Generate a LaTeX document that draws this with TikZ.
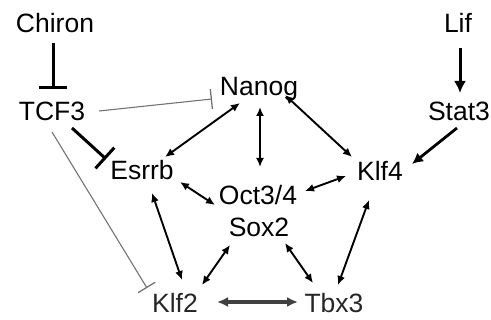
\documentclass[tikz,border=0pt]{standalone}
\usepackage{fontspec}
\setmainfont{Liberation Sans}
\usetikzlibrary{arrows.meta}
\begin{document}
\begin{tikzpicture}[x=1pt,y=-1pt,
  lbl/.style={anchor=base,inner sep=0pt,font=\fontsize{26.5}{30}\selectfont},
  faded/.style={lbl,text=black!85},
  act/.style={line width=1.9pt,{Latex[length=9pt,width=8pt]}-{Latex[length=9pt,width=8pt]}},
  fwd/.style={line width=3pt,-{Latex[length=12pt,width=12pt]}},
  inh/.style={line width=3pt,-{Bar[width=28pt,line width=3pt]}},
  inhthin/.style={line width=1.1pt,draw=black!55,-{Bar[width=20pt,line width=1.3pt]}}]
\useasboundingbox (0,0) rectangle (491,320);
\node[lbl] (chiron) at (55,33) {Chiron};
\node[lbl] (lif) at (458,33) {Lif};
\node[lbl] (tcf3) at (52,121) {TCF3};
\node[lbl] (nanog) at (259,96) {Nanog};
\node[lbl] (stat3) at (459,121) {Stat3};
\node[lbl] (esrrb) at (142,180) {Esrrb};
\node[lbl] (klf4) at (380,181) {Klf4};
\node[lbl] (oct) at (258,205) {Oct3/4};
\node[lbl] (sox) at (259,237) {Sox2};
\node[faded] (klf2) at (175,313) {Klf2};
\node[faded] (tbx3) at (334,313) {Tbx3};
% inhibitions
\draw[inh] ([shift={(-2,10)}]chiron.base) -- ([shift={(1,-32)}]tcf3.base);
\draw[inhthin] ([shift={(47,-10)}]tcf3.base) -- ([shift={(-47,3)}]nanog.base);
\draw[inh] ([shift={(20,7)}]tcf3.base) -- ([shift={(-36,-21)}]esrrb.base);
\draw[inhthin] ([shift={(0,11)}]tcf3.base) -- ([shift={(-28,-25)}]klf2.base);
% activations
\draw[fwd] ([shift={(2,15)}]lif.base) -- ([shift={(1,-28)}]stat3.base);
\draw[fwd,line width=2.8pt,-{Latex[length=11pt,width=11pt]}] ([shift={(-2,7)}]stat3.base) -- ([shift={(32,-17)}]klf4.base);
% mutual
\draw[act] ([shift={(26,-1)}]nanog.base) -- ([shift={(-28,-24)}]klf4.base);
\draw[act] ([shift={(1,11)}]nanog.base) -- ([shift={(2,-38)}]oct.base);
\draw[act] ([shift={(-19,7)}]nanog.base) -- ([shift={(23,-23)}]esrrb.base);
\draw[act] ([shift={(-34,-5)}]klf4.base) -- ([shift={(47,-14)}]oct.base);
\draw[act] ([shift={(38,2)}]esrrb.base) -- ([shift={(-43,0)}]oct.base);
\draw[act] ([shift={(10,13)}]esrrb.base) -- ([shift={(7,-33)}]klf2.base);
\draw[act] ([shift={(-29,8)}]sox.base) -- ([shift={(27,-28)}]klf2.base);
\draw[draw=black!75,line width=3.4pt,{Latex[length=11pt,width=10pt]}-{Latex[length=11pt,width=10pt]}] ([shift={(42,-11)}]klf2.base) -- ([shift={(-36,-11)}]tbx3.base);
\draw[act] ([shift={(26,6)}]sox.base) -- ([shift={(-21,-30)}]tbx3.base);
\draw[act] ([shift={(-11,19)}]klf4.base) -- ([shift={(4,-28)}]tbx3.base);
\end{tikzpicture}
\end{document}
